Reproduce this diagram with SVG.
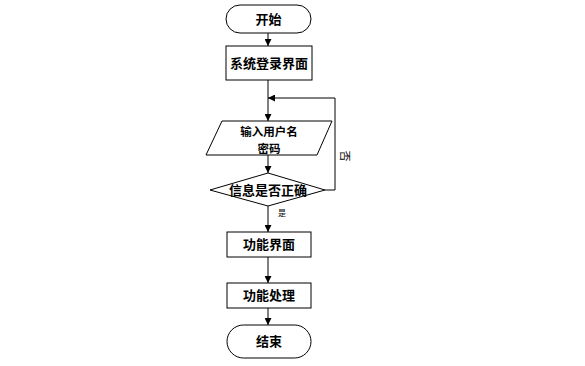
<svg xmlns="http://www.w3.org/2000/svg" width="585" height="366" viewBox="0 0 585 366">
<style>
.s{fill:#fff;stroke:#000;stroke-width:1}
.t{font-family:"Noto Sans CJK SC",sans-serif;font-size:13px;font-weight:bold;text-anchor:middle;fill:#000}
.t2{font-family:"Noto Sans CJK SC",sans-serif;font-size:11.5px;font-weight:bold;text-anchor:middle;fill:#000}
.l{font-family:"Noto Sans CJK SC",sans-serif;text-anchor:middle;fill:#000}
.c{fill:none;stroke:#000;stroke-width:1}
</style>
<defs>
<marker id="a" viewBox="0 0 10 10" refX="10" refY="5" markerWidth="7" markerHeight="7" orient="auto" markerUnits="userSpaceOnUse">
<path d="M0,0 L10,5 L0,10 z" fill="#000"/>
</marker>
</defs>
<rect width="585" height="366" fill="#fff"/>
<g id="connectors">
<line class="c" x1="268" y1="33" x2="268" y2="46" marker-end="url(#a)"/>
<line class="c" x1="268" y1="80" x2="268" y2="121" marker-end="url(#a)"/>
<line class="c" x1="268" y1="155" x2="268" y2="173" marker-end="url(#a)"/>
<polyline class="c" points="325,190 335,190 335,98 268,98" marker-end="url(#a)"/>
<line class="c" x1="268" y1="206" x2="268" y2="232" marker-end="url(#a)"/>
<line class="c" x1="268" y1="257" x2="268" y2="283" marker-end="url(#a)"/>
<line class="c" x1="268" y1="308" x2="268" y2="325" marker-end="url(#a)"/>
<text class="l" font-size="11" transform="translate(345,156) rotate(90)" dy="4">否</text>
<text class="l" font-size="8" x="282" y="216">是</text>
</g>
<g id="start">
<rect class="s" x="226" y="5" width="85" height="28" rx="14" ry="14"/>
<text class="t" x="268.5" y="24">开始</text>
</g>
<g id="login">
<rect class="s" x="226" y="46" width="86" height="34"/>
<text class="t" x="269" y="68">系统登录界面</text>
</g>
<g id="input">
<polygon class="s" points="222,121 332,121 317,155 206,155"/>
<text class="t2" x="269" y="136">输入用户名</text>
<text class="t2" x="269" y="153">密码</text>
</g>
<g id="check">
<polygon class="s" points="268,173 325,190 268,206 210,190"/>
<text class="t" x="268" y="195">信息是否正确</text>
</g>
<g id="func">
<rect class="s" x="227" y="232" width="84" height="25"/>
<text class="t" x="269" y="249">功能界面</text>
</g>
<g id="proc">
<rect class="s" x="227" y="283" width="84" height="25"/>
<text class="t" x="269" y="300">功能处理</text>
</g>
<g id="end">
<rect class="s" x="227" y="325" width="84" height="33" rx="16.5" ry="16.5"/>
<text class="t" x="269" y="346">结束</text>
</g>
</svg>
